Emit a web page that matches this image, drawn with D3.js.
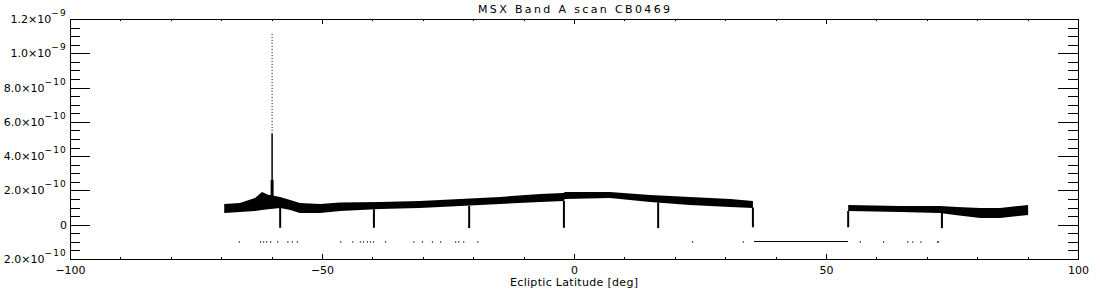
<!DOCTYPE html>
<html>
<head>
<meta charset="utf-8">
<script src="https://cdn.jsdelivr.net/npm/d3@7"></script>
<style>
	body { margin: 0; background: #fff; }
	svg { display: block; }
	text { font-family: "DejaVu Sans", sans-serif; fill: #000; }
</style>
</head>
<body>
<script>
// values in units of 1e-10
const unit = 1e-10;

const bandLat  = [-69.4, -66.3, -63.3, -61.9, -60.7, -58.3, -56.3, -54.4, -50.4, -46.4, -38.5, -30.6, -22.6, -14.7, -6.7, -2.1, -1.8, 7.1, 15.1, 23.0, 31.0, 35.5, 45.0, 54.4, 64.7, 72.6, 76.0, 80.6, 84.5, 90.1];
const bandHigh = [1.21, 1.27, 1.56, 1.91, 1.75, 1.62, 1.44, 1.27, 1.21, 1.30, 1.32, 1.38, 1.50, 1.62, 1.79, 1.85, 1.91, 1.91, 1.73, 1.62, 1.50, 1.38, null, 1.15, 1.09, 1.09, 1.03, 0.97, 0.97, 1.15];
const bandLow  = [0.68, 0.74, 0.80, 0.86, 0.90, 0.97, 0.86, 0.68, 0.68, 0.80, 0.92, 0.97, 1.09, 1.21, 1.32, 1.38, 1.50, 1.56, 1.32, 1.15, 1.03, 0.97, null, 0.80, 0.74, 0.68, 0.55, 0.39, 0.39, 0.57];

const dipLat    = [-58.3, -39.7, -20.8, -2.0, 16.7, 35.5, 54.4, 73.0];
const dipTop    = [1.0, 0.9, 1.1, 1.4, 1.3, 1.0, 0.8, 0.7];
const dipBottom = [-0.18, -0.18, -0.2, -0.18, -0.2, -0.15, -0.15, -0.2];

const spikeLat = -59.9;
const spikeBase = 1.5;
const spikeSolidTop = 5.3;
const spikePeak = 11.2;

const badLat = [-66.5, -62.3, -61.7, -61.1, -60.3, -58.9, -56.9, -56.0, -55.0, -46.4, -44.0, -42.5, -41.9, -41.1, -40.5, -39.9, -37.5, -31.9, -30.2, -28.2, -26.6, -23.6, -23.0, -22.0, -19.2, 23.4, 33.5, 56.7, 61.3, 66.1, 67.1, 68.7, 72.0, 72.2];
const badValue = -1.0;
const gapLineLat = [35.7, 54.4];

const xMajor = [-100, -50, 0, 50, 100];
const xMinor = [-90, -80, -70, -60, -40, -30, -20, -10, 10, 20, 30, 40, 60, 70, 80, 90];
const yMajor = [-2e-10, 0, 2e-10, 4e-10, 6e-10, 8e-10, 1.0e-9, 1.2e-9];
const yTickBase = ["2.0×10", "0", "2.0×10", "4.0×10", "6.0×10", "8.0×10", "1.0×10", "1.2×10"];
const yTickExp  = ["−10", "", "−10", "−10", "−10", "−10", "−9", "−9"];

const titleText = "MSX Band A scan CB0469";
const xLabelText = "Ecliptic Latitude [deg]";

const width = 1100, height = 300;
const plotLeft = 70, plotRight = 1078, plotTop = 19, plotBottom = 259;

const svg = d3.select("body").append("svg")
	.attr("width", width)
	.attr("height", height);

const x = d3.scaleLinear().domain([-100, 100]).range([plotLeft, plotRight]);
const y = d3.scaleLinear().domain([-2e-10, 1.2e-9]).range([plotBottom, plotTop]);

// minor y ticks every 5e-11
let yMinor = [];
for (let i = 0; i < yMajor.length - 1; i++) {
	for (let k = 1; k < 4; k++) yMinor.push(yMajor[i] + k * 5e-11);
}

function addAxis(axis, tx, ty) {
	let g = svg.append("g")
		.attr("transform", "translate(" + tx + "," + ty + ")")
		.call(axis);
	g.select(".domain").remove();
	g.selectAll("line").attr("stroke", "#000").attr("shape-rendering", "crispEdges");
	return g;
}

// x axes
let xb = addAxis(d3.axisBottom(x).tickValues(xMajor).tickSizeInner(-4.8).tickSizeOuter(0).tickPadding(7)
	.tickFormat((d) => (d < 0 ? "−" + Math.abs(d) : d)), 0, plotBottom);
xb.selectAll("text").attr("font-size", 11).attr("font-family", "DejaVu Sans");
addAxis(d3.axisBottom(x).tickValues(xMinor).tickSizeInner(-2.4).tickSizeOuter(0).tickFormat(""), 0, plotBottom);
addAxis(d3.axisTop(x).tickValues(xMajor).tickSizeInner(-4.8).tickSizeOuter(0).tickFormat(""), 0, plotTop);
addAxis(d3.axisTop(x).tickValues(xMinor).tickSizeInner(-2.4).tickSizeOuter(0).tickFormat(""), 0, plotTop);

// y axes
addAxis(d3.axisLeft(y).tickValues(yMajor).tickSizeInner(-20).tickSizeOuter(0).tickFormat(""), plotLeft, 0);
addAxis(d3.axisLeft(y).tickValues(yMinor).tickSizeInner(-10).tickSizeOuter(0).tickFormat(""), plotLeft, 0);
addAxis(d3.axisRight(y).tickValues(yMajor).tickSizeInner(-20).tickSizeOuter(0).tickFormat(""), plotRight, 0);
addAxis(d3.axisRight(y).tickValues(yMinor).tickSizeInner(-10).tickSizeOuter(0).tickFormat(""), plotRight, 0);

// y tick labels with exponents
yMajor.forEach((v, i) => {
	let t = svg.append("text")
		.attr("x", 67)
		.attr("y", y(v) + 4)
		.attr("text-anchor", "end")
		.attr("font-size", 11)
		.text(yTickBase[i]);
	if (yTickExp[i]) {
		t.append("tspan")
			.attr("dy", -7)
			.attr("font-size", 9)
			.attr("letter-spacing", 1.2)
			.text(yTickExp[i]);
	}
});

// frame
svg.append("rect")
	.attr("x", plotLeft)
	.attr("y", plotTop)
	.attr("width", plotRight - plotLeft)
	.attr("height", plotBottom - plotTop)
	.attr("fill", "none")
	.attr("stroke", "#000")
	.attr("shape-rendering", "crispEdges");

// noisy band
let bandData = bandLat.map((d, i) => ({ lat: d, lo: bandLow[i], hi: bandHigh[i] }));
let area = d3.area()
	.defined((d) => d.lo !== null)
	.x((d) => x(d.lat))
	.y0((d) => y(d.lo * unit))
	.y1((d) => y(d.hi * unit));
svg.append("path")
	.datum(bandData)
	.attr("d", area)
	.attr("fill", "#000");

// dips
svg.selectAll(".dip")
	.data(dipLat)
	.enter()
	.append("line")
	.attr("class", "dip")
	.attr("x1", (d) => x(d))
	.attr("x2", (d) => x(d))
	.attr("y1", (d, i) => y(dipTop[i] * unit))
	.attr("y2", (d, i) => y(dipBottom[i] * unit))
	.attr("stroke", "#000")
	.attr("stroke-width", 2);

// spike
svg.append("line")
	.attr("x1", x(spikeLat)).attr("x2", x(spikeLat))
	.attr("y1", y(spikeBase * unit)).attr("y2", y(2.6 * unit))
	.attr("stroke", "#000").attr("stroke-width", 3);
svg.append("line")
	.attr("x1", x(spikeLat)).attr("x2", x(spikeLat))
	.attr("y1", y(spikeBase * unit)).attr("y2", y(spikeSolidTop * unit))
	.attr("stroke", "#000").attr("stroke-width", 1.5);
svg.append("line")
	.attr("x1", x(spikeLat)).attr("x2", x(spikeLat))
	.attr("y1", y(spikeSolidTop * unit)).attr("y2", y(spikePeak * unit))
	.attr("stroke", "#000").attr("stroke-width", 1)
	.attr("stroke-dasharray", "1,2");

// flagged points
svg.selectAll(".bad")
	.data(badLat)
	.enter()
	.append("rect")
	.attr("class", "bad")
	.attr("x", (d) => x(d))
	.attr("y", y(badValue * unit) - 0.5)
	.attr("width", 1.2)
	.attr("height", 1.2)
	.attr("fill", "#000");

svg.append("line")
	.attr("x1", x(gapLineLat[0])).attr("x2", x(gapLineLat[1]))
	.attr("y1", y(badValue * unit)).attr("y2", y(badValue * unit))
	.attr("stroke", "#000").attr("stroke-width", 1)
	.attr("shape-rendering", "crispEdges");

// title and axis label
svg.append("text")
	.attr("x", (plotLeft + plotRight) / 2)
	.attr("y", 13)
	.attr("text-anchor", "middle")
	.attr("font-size", 11)
	.attr("textLength", 192)
	.attr("lengthAdjust", "spacing")
	.text(titleText);

svg.append("text")
	.attr("x", (plotLeft + plotRight) / 2)
	.attr("y", 286)
	.attr("text-anchor", "middle")
	.attr("font-size", 11)
	.attr("textLength", 128)
	.attr("lengthAdjust", "spacing")
	.text(xLabelText);
</script>
</body>
</html>
